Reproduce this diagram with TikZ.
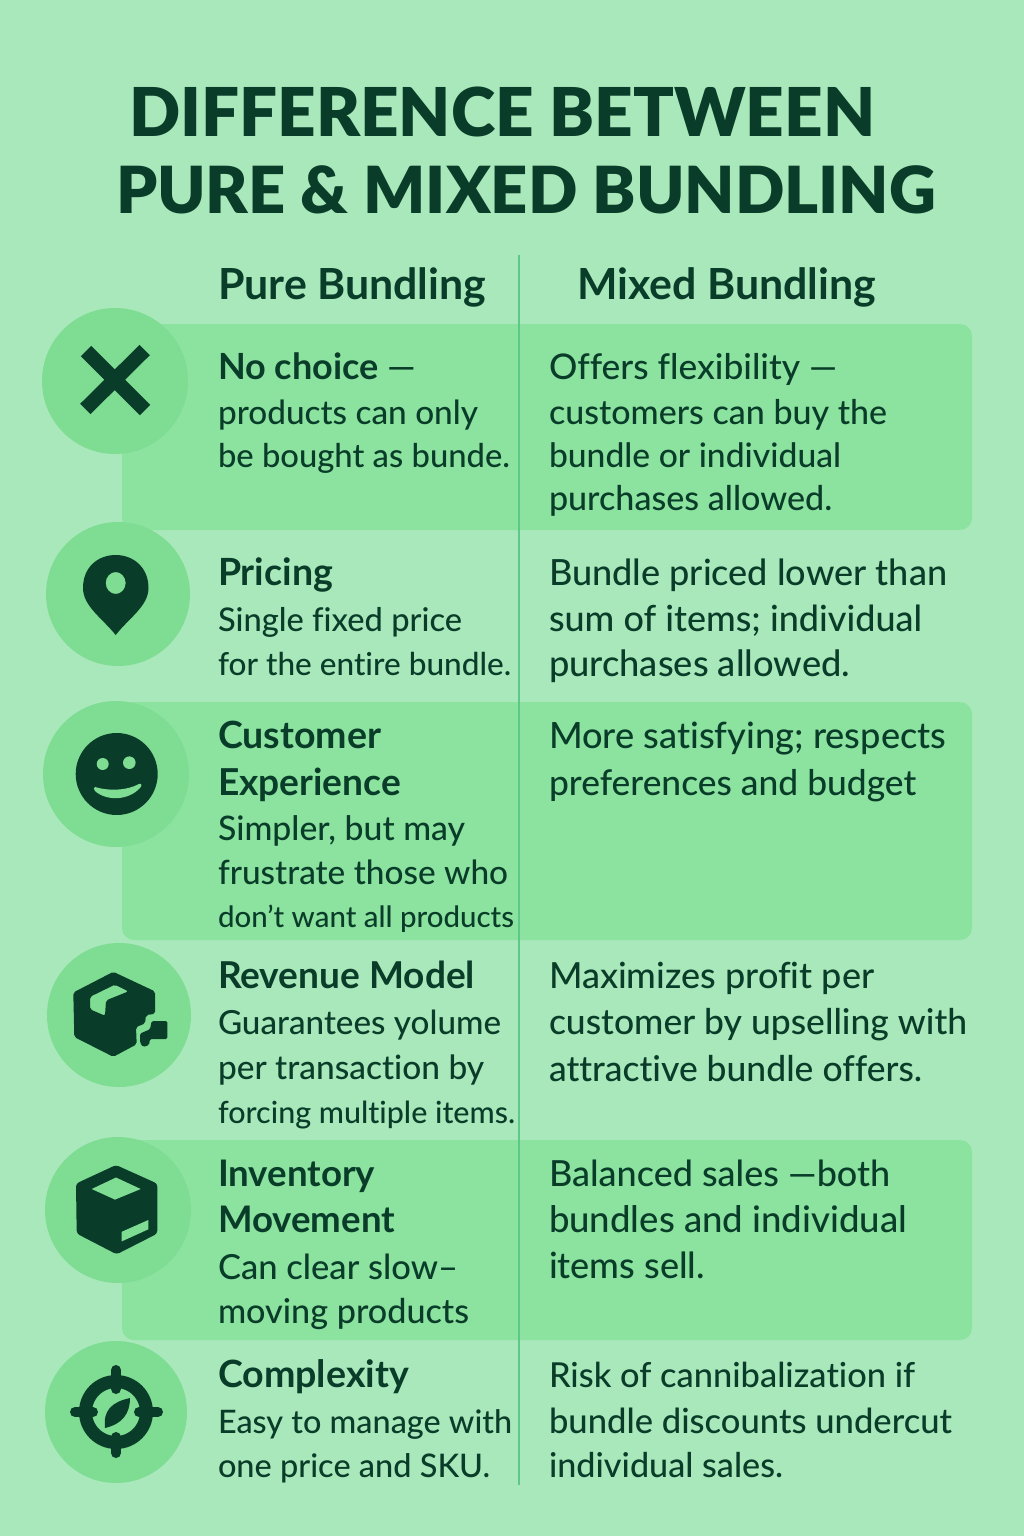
\documentclass[tikz,border=0pt]{standalone}
\usepackage{fontspec}
\usepackage{graphicx}
\setmainfont{Lato Medium}[Ligatures=NoCommon,BoldFont={Lato Bold}]
\newfontfamily\ttlfont{Lato Black}[Ligatures=NoCommon]
\definecolor{bgc}{HTML}{A9E8BB}
\definecolor{panelc}{HTML}{8CE3A0}
\definecolor{circc}{HTML}{7FDC93}
\definecolor{darkc}{HTML}{0A3D29}
\definecolor{divc}{HTML}{5CC98A}
\newcommand{\tl}[5]{\node[txt] (#1) at (#2,#3) {\resizebox{#4pt}{!}{\strut#5}};}
\newcommand{\hl}[5]{\node[txt] (#1) at (#2,#3) {\resizebox{#4pt}{!}{\strut\bfseries #5}};}
\newcommand{\ttl}[5]{\node[txt] (#1) at (#2,#3) {\resizebox{#4pt}{!}{\strut\ttlfont #5}};}
\tikzset{
  txt/.style={anchor=base west,inner sep=0pt,outer sep=0pt,text=darkc,xshift=-1pt},
  panel/.style={fill=panelc,rounded corners=12pt},
  badge/.style={circle,fill=circc,inner sep=0pt},
  ico/.style={fill=darkc,even odd rule}
}
\begin{document}
\begin{tikzpicture}[x=1pt,y=-1pt]
\useasboundingbox (0,0) rectangle (1024,1536);
\fill[bgc] (0,0) rectangle (1024,1536);
% panels
\fill[panel] (122,324) rectangle (972,530);
\fill[panel] (122,702) rectangle (972,940);
\fill[panel] (122,1140) rectangle (972,1340);
% divider
\draw[divc,line width=2pt] (519,255) -- (519,1485);
% badges
\node[badge,minimum size=146pt] (b1) at (115,381) {};
\node[badge,minimum size=144pt] (b2) at (118,594) {};
\node[badge,minimum size=146pt] (b3) at (116,774) {};
\node[badge,minimum size=144pt] (b4) at (119,1015) {};
\node[badge,minimum size=146pt] (b5) at (118,1210) {};
\node[badge,minimum size=142pt] (b6) at (116,1412) {};
% icon X
\draw[darkc,line width=14.6pt] (86,351) -- (145,410) (144.7,350) -- (85.3,409);
% icon pin
\fill[ico] (115.7,635) .. controls (102,618) and (83,606) .. (83,588)
  .. controls (83,567) and (98,555) .. (115.7,555)
  .. controls (133,555) and (148.5,567) .. (148.5,588)
  .. controls (148.5,606) and (129,618) .. (115.7,635) -- cycle
  (115.7,583) ellipse (10pt and 11pt);
% icon smiley
\fill[ico] (116.7,774) circle (41pt);
\fill[circc] (102.7,764) circle (6pt) (129.3,762.7) circle (6.3pt);
\fill[circc] (95,787) .. controls (108,791) and (126,791) .. (139,784) .. controls (142,783) and (142,786) .. (140,788)
  .. controls (128,801) and (106,801) .. (95,791) .. controls (94,790) and (93,787) .. (95,787) -- cycle;
% icon box 1
\fill[ico,rounded corners=2pt] (113.3,971.8) -- (155,991.4) -- (155,1013.9) -- (146,1015) -- (145,1023.6) -- (136,1027) -- (136.7,1044.3) -- (113.3,1056.8) -- (74.3,1037) -- (73.3,992.5) -- cycle
 (115,984.6) -- (128.3,991.4) -- (106,1000.4) -- (105,1015.7) -- (90,1009.3) -- (90,996.8) -- cycle;
\fill[ico,rounded corners=1.5pt] (151.7,1021) -- (167.3,1021) -- (167.3,1039) -- (150,1039) -- (149,1045) -- (143,1047) -- (140,1042.5) -- (140,1033.6) -- (150,1029.3) -- cycle;
% icon box 2
\fill[ico,rounded corners=3pt] (116,1165) -- (157.3,1183.6) -- (157.3,1233.6) -- (116.7,1254.3) -- (76.7,1233.6) -- (76,1183.6) -- cycle;
\fill[circc] (116,1177.5) -- (140.7,1189) -- (115,1199.6) -- (91.7,1189) -- cycle
 (148.3,1220) -- (148.3,1229.3) -- (121.7,1241.4) -- (121.7,1231.8) -- cycle;
% icon target
\draw[darkc,line width=13pt] (116,1412) circle (30.5pt);
\draw[darkc,line width=10pt,line cap=round] (75,1412) -- (93,1412) (139,1412) -- (158,1412) (116,1370) -- (116,1389) (116,1437) -- (116,1453);
\fill[darkc] (105,1428) .. controls (103,1410) and (112,1402) .. (130,1398) .. controls (130,1414) and (122,1424) .. (105,1428) -- cycle;
% title
\ttl{t1}{130}{136}{746}{DIFFERENCE BETWEEN}
\ttl{t2}{117}{213}{820}{PURE \& MIXED BUNDLING}
% headers
\hl{h1}{219}{299}{268}{Pure Bundling}
\hl{h2}{578}{299}{299}{Mixed Bundling}
% row 1
\hl{a1}{219}{379}{198}{No choice {\mdseries —}}
\tl{a2}{219}{424}{260}{products can only}
\tl{a3}{219}{467}{292}{be bought as bunde.}
\tl{c1}{550}{379}{288}{Offers flexibility —}
\tl{c2}{550}{424}{338}{customers can buy the}
\tl{c3}{550}{467}{292}{bundle or individual}
\tl{c4}{550}{510}{283}{purchases allowed.}
% row 2
\hl{d1}{219}{585}{115}{Pricing}
\tl{d2}{219}{631}{244}{Single fixed price}
\tl{d3}{219}{675}{293}{for the entire bundle.}
\tl{e1}{550}{585}{398}{Bundle priced lower than}
\tl{e2}{550}{631}{373}{sum of items; individual}
\tl{e3}{550}{676}{301}{purchases allowed.}
% row 3
\hl{f1}{219}{748}{163}{Customer}
\hl{f2}{219}{795}{183}{Experience}
\tl{f3}{219}{840}{247}{Simpler, but may}
\tl{f4}{219}{884}{290}{frustrate those who}
\tl{f5}{219}{927}{296}{don't want all products}
\tl{g1}{550}{748}{397}{More satisfying; respects}
\tl{g2}{550}{795}{367}{preferences and budget}
% row 4
\hl{h3}{219}{988}{257}{Revenue Model}
\tl{h4}{219}{1034}{283}{Guarantees yolume}
\tl{h5}{219}{1079}{266}{per transaction by}
\tl{h6}{219}{1123}{297}{forcing multiple items.}
\tl{i1}{550}{988}{325}{Maximizes profit per}
\tl{i2}{550}{1034}{418}{customer by upselling with}
\tl{i3}{550}{1081}{373}{attractive bundle offers.}
% row 5
\hl{j1}{219}{1186}{157}{Inventory}
\hl{j2}{219}{1232}{177}{Movement}
\tl{j3}{219}{1279}{240}{Can clear slow–}
\tl{j4}{219}{1323}{251}{moving products}
\tl{k1}{550}{1186}{341}{Balanced sales —both}
\tl{k2}{550}{1232}{358}{bundles and individual}
\tl{k3}{550}{1278}{156}{items sell.}
% row 6
\hl{l1}{219}{1387}{191}{Complexity}
\tl{l2}{219}{1433}{294}{Easy to manage with}
\tl{l3}{219}{1477}{272}{one price and SKU.}
\tl{m1}{550}{1387}{366}{Risk of cannibalization if}
\tl{m2}{550}{1433}{403}{bundle discounts undercut}
\tl{m3}{550}{1477}{234}{individual sales.}
\end{tikzpicture}
\end{document}
